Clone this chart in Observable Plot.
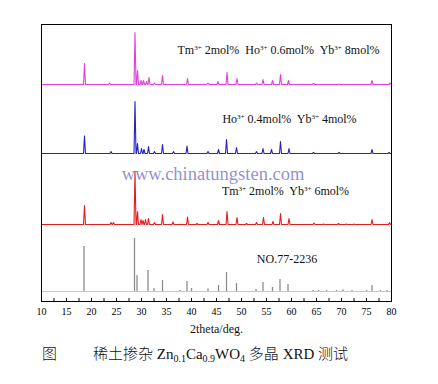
<!DOCTYPE html>
<html>
<head>
<meta charset="utf-8">
<script src="https://cdn.jsdelivr.net/npm/d3@7"></script>
<script src="https://cdn.jsdelivr.net/npm/@observablehq/plot@0.6"></script>
<style>
  html, body { margin: 0; padding: 0; background: #fff; }
  #wrap { position: relative; width: 438px; height: 384px; }
  #caption { position: absolute; top: 343px; left: 0; width: 438px; height: 22px;
    font-family: "Liberation Serif", "Noto Sans CJK SC", serif; font-size: 15px; line-height: 20px; color: #111; }
  #caption span { position: absolute; top: 0; white-space: nowrap; }
  #caption sub { font-size: 10px; vertical-align: -3px; line-height: 0; }
  .cjk { font-family: "Noto Sans CJK SC", sans-serif; font-weight: 300; }
</style>
</head>
<body>
<div id="wrap">
  <div id="chart"></div>
  <div id="caption"><span class="cjk" style="left:42px">图</span><span style="left:93px"><span class="cjk" style="position:static">稀土掺杂</span> Zn<sub>0.1</sub>Ca<sub>0.9</sub>WO<sub>4</sub> <span class="cjk" style="position:static">多晶</span> XRD <span class="cjk" style="position:static">测试</span></span></div>
</div>
<script>
// 2θ axis ticks (degrees)
const xTicks = d3.range(10, 80.01, 2.5);

// Reference pattern PDF NO.77-2236 (stick positions, relative intensities)
const refPos = [18.5, 28.6, 29.1, 31.3, 32.5, 34.2, 37.7, 39.1, 40.0, 43.3, 45.4, 47.0, 49.0, 52.9, 54.3, 56.2, 57.7, 59.3, 64.3, 65.4, 67.0, 69.0, 70.3, 72.1, 75.0, 76.1, 77.8, 79.1];
const refInt = [45, 53, 16, 21, 3, 11, 1, 10, 3, 2.5, 6, 19, 8, 2, 9, 4, 12, 7, 1, 1, 1, 1, 1.5, 1, 1, 6, 1, 1];

// Tm 2% Yb 6% (red)
const redPos = [18.6, 23.9, 24.4, 28.7, 29.2, 29.9, 30.3, 30.8, 31.4, 32.6, 34.2, 36.3, 39.2, 41.1, 43.3, 45.4, 47.1, 49.1, 51.0, 53.0, 54.4, 56.3, 57.8, 59.5, 64.5, 66.4, 69.4, 71.0, 72.5, 76.1, 79.6];
const redInt = [19, 2, 2, 53, 13, 5, 4, 5, 6, 2, 10, 2.5, 7.5, 1, 2, 4, 13, 7, 1, 2, 7, 3, 11, 6, 1.5, 0.5, 1, 0.5, 0.5, 5, 2];

// Ho 0.4% Yb 4% (blue)
const bluePos = [18.6, 23.9, 28.7, 29.2, 30.0, 30.5, 31.4, 32.6, 34.2, 36.4, 39.1, 43.3, 45.4, 47.0, 49.0, 53.0, 54.3, 56.0, 57.8, 59.5, 64.4, 69.5, 76.1, 79.5];
const blueInt = [17.5, 2, 52, 10, 5, 4, 7, 2, 9, 2, 7.5, 2, 4, 14, 6, 2, 5, 4, 12, 5, 1, 1, 4, 1];

// Tm 2% Ho 0.6% Yb 8% (magenta)
const magPos = [18.6, 23.6, 28.7, 29.2, 29.9, 30.4, 31.0, 31.5, 32.6, 34.2, 39.2, 43.3, 45.3, 47.1, 49.1, 53.0, 54.3, 56.2, 57.8, 59.4, 64.4, 69.5, 76.1, 79.7];
const magInt = [21, 1.5, 52, 14, 4, 4, 3, 7, 1.5, 9, 6, 1.5, 3, 12, 6, 1.5, 5, 4, 10, 4, 1, 0.5, 4, 1.5];

// Vertical stacking offsets (a.u.)
const offsets = {ref: 10, red: 77, blue: 148, mag: 217};

const seriesLabels = {
  mag: "Tm^3+ 2mol%  Ho^3+ 0.6mol%  Yb^3+ 8mol%",
  blue: "Ho^3+ 0.4mol%  Yb^3+ 4mol%",
  red: "Tm^3+ 2mol%  Yb^3+ 6mol%",
  ref: "NO.77-2236"
};

function profile(pos, ints, off) {
  const hw = 0.2;
  const pts = [{x: 10, y: off}];
  pos.forEach((p, i) => {
    pts.push({x: p - hw, y: off});
    pts.push({x: p, y: off + ints[i]});
    pts.push({x: p + hw, y: off});
  });
  pts.push({x: 80, y: off});
  return pts;
}

const refSticks = refPos.map((p, i) => ({x: p, y1: offsets.ref, y2: offsets.ref + refInt[i]}));

const serif = "'Liberation Serif', 'Times New Roman', serif";

const plot = Plot.plot({
  width: 438, height: 342,
  marginTop: 24, marginBottom: 41, marginLeft: 41, marginRight: 47,
  x: {domain: [10, 80]},
  y: {domain: [0, 277], axis: null},
  style: {fontFamily: serif, fontSize: "10px", color: "#000", background: "#fff", overflow: "visible"},
  marks: [
    Plot.text(["www.chinatungsten.com"], {x: 44.3, y: 127, fontSize: 18.5, fill: "#6c6cc8", fillOpacity: 0.75, fontFamily: serif}),
    Plot.ruleY([offsets.ref], {stroke: "#c8c8c8", strokeWidth: 1}),
    Plot.ruleX(refSticks, {x: "x", y1: "y1", y2: "y2", stroke: "#8c8c8c", strokeWidth: 1.3}),
    Plot.line(profile(redPos, redInt, offsets.red), {x: "x", y: "y", stroke: "#e41e1e", strokeWidth: 1.1}),
    Plot.line(profile(bluePos, blueInt, offsets.blue), {x: "x", y: "y", stroke: "#2424c0", strokeWidth: 1.1}),
    Plot.line(profile(magPos, magInt, offsets.mag), {x: "x", y: "y", stroke: "#e040e0", strokeWidth: 1.1}),
    Plot.text([seriesLabels.mag], {x: 57.4, y: 251, fontSize: 12, fill: "#111", className: "sup-label"}),
    Plot.text([seriesLabels.blue], {x: 59.6, y: 182, fontSize: 12, fill: "#111", className: "sup-label"}),
    Plot.text([seriesLabels.red], {x: 58.8, y: 110, fontSize: 12, fill: "#111", className: "sup-label"}),
    Plot.text([seriesLabels.ref], {x: 59.1, y: 42, fontSize: 12, fill: "#111"}),
    Plot.frame({stroke: "#000", strokeWidth: 1}),
    Plot.axisX({ticks: xTicks, tickSize: -3, tickPadding: 9, tickFormat: d => d % 5 === 0 ? String(d) : "", label: null, fontSize: 10}),
    Plot.text(["2theta/deg."], {frameAnchor: "bottom", dy: 31, fontSize: 12, fill: "#111"})
  ]
});

// render "^3+" as superscripts
d3.select(plot).selectAll("g.sup-label text").each(function() {
  const t = d3.select(this);
  const s = t.text();
  t.text(null);
  s.split(/(\^\d\+)/).forEach(part => {
    if (!part) return;
    if (part.startsWith("^")) {
      t.append("tspan").attr("baseline-shift", "super").attr("font-size", "7px").text(part.slice(1));
    } else {
      t.append("tspan").text(part);
    }
  });
});

document.getElementById("chart").appendChild(plot);
</script>
</body>
</html>
